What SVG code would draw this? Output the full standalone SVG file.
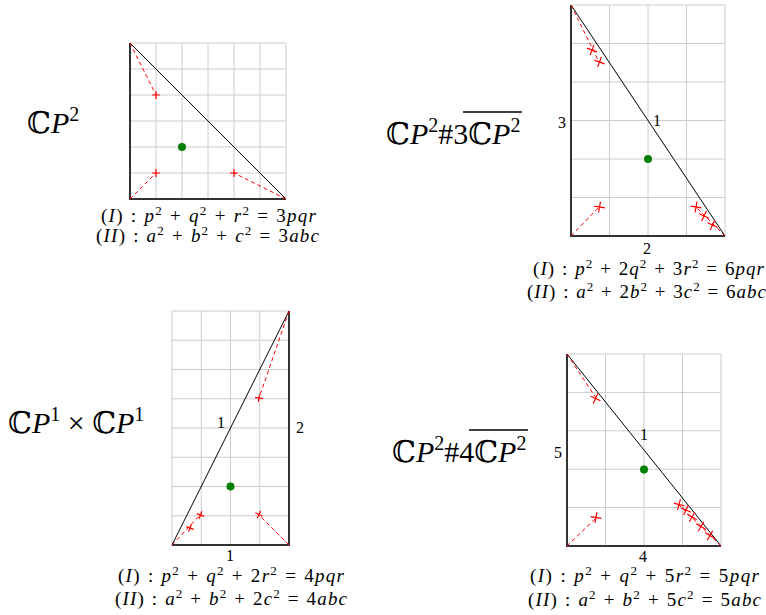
<svg xmlns="http://www.w3.org/2000/svg" xmlns:xlink="http://www.w3.org/1999/xlink" width="766" height="615" viewBox="0 0 766 615">
<style>
.grid{stroke:#cccccc;stroke-width:1;fill:none}
.axis{stroke:#333333;stroke-width:2;fill:none}
.hyp{stroke:#000000;stroke-width:1;fill:none}
.dash{stroke:#ff0000;stroke-width:1;stroke-dasharray:4 3;fill:none}
.cr{stroke:#ff0000;stroke-width:1.2;fill:none}
.dot{fill:#008000}
text{font-family:"Liberation Serif","DejaVu Serif",serif;fill:#000}
.num{font-size:16px;text-anchor:middle}
.eq{font-size:19px;text-anchor:middle;word-spacing:1px}
.i{font-style:italic}
.s{font-size:13px}
.title{font-size:30px}
.t2{font-size:20px}
.bb{font-family:"DejaVu Serif",serif}
.ol{stroke:#000;stroke-width:1.3}
</style>
<defs>
<path id="c" d="M-4,0H4M0,-4V4"/>
<path id="C" d="M-5.5,0H5.5M0,-5.5V5.5"/>
</defs>

<g id="panel1">
<path class="grid" d="M130,43H286M130,69H286M130,95H286M130,121H286M130,147H286M130,173H286M130,199H286M130,43V199M156,43V199M182,43V199M208,43V199M234,43V199M260,43V199M286,43V199"/>
<path class="axis" d="M130,43V199H286"/>
<path class="hyp" d="M130,43L286,199"/>
<circle class="dot" cx="182" cy="147" r="4"/>
</g>
<g id="panel2">
<path class="grid" d="M571,5H725M571,43.5H725M571,82H725M571,120.5H725M571,159H725M571,197.5H725M571,236H725M571,5V236M609.5,5V236M648,5V236M686.5,5V236M725,5V236"/>
<path class="axis" d="M571,5V236H725"/>
<path class="hyp" d="M571,5L725,236"/>
<circle class="dot" cx="648" cy="159" r="4"/>
</g>
<g id="panel3">
<path class="grid" d="M172,311H289M172,340.25H289M172,369.5H289M172,398.75H289M172,428H289M172,457.25H289M172,486.5H289M172,515.75H289M172,545H289M172,311V545M201.25,311V545M230.5,311V545M259.75,311V545M289,311V545"/>
<path class="axis" d="M289,311V545H172"/>
<path class="hyp" d="M172,545L289,311"/>
<circle class="dot" cx="230.5" cy="486.5" r="4"/>
</g>
<g id="panel4">
<path class="grid" d="M567,354H721M567,392.4H721M567,430.8H721M567,469.2H721M567,507.6H721M567,546H721M567,354V546M605.5,354V546M644,354V546M682.5,354V546M721,354V546"/>
<path class="axis" d="M567,354V546H721"/>
<path class="hyp" d="M567,354L721,546"/>
<circle class="dot" cx="644" cy="469.5" r="4"/>
</g>

<g id="connectors">
<path class="dash" d="M130,43L156,95M130,199L156,173M286,199L234,173"/>
<path class="dash" d="M571,5L599,62M571,236L599,207M725,236L696,207"/>
<path class="dash" d="M172,545L200,515M289,311L259,398M289,545L259,515"/>
<path class="dash" d="M567,354L596,398M567,546L596,518M721,546L679,505"/>
</g>

<g id="crosses">
<use xlink:href="#c" class="cr" x="156" y="95"/>
<use xlink:href="#c" class="cr" x="156" y="173"/>
<use xlink:href="#c" class="cr" x="234" y="173"/>
<use xlink:href="#C" class="cr" transform="translate(592,50) rotate(20)"/>
<use xlink:href="#C" class="cr" transform="translate(599.5,62) rotate(20)"/>
<use xlink:href="#C" class="cr" transform="translate(599.5,207) rotate(10)"/>
<use xlink:href="#C" class="cr" transform="translate(696,207) rotate(10)"/>
<use xlink:href="#C" class="cr" transform="translate(704,216) rotate(25)"/>
<use xlink:href="#C" class="cr" transform="translate(712.5,225) rotate(25)"/>
<use xlink:href="#c" class="cr" transform="translate(190,528) rotate(20)"/>
<use xlink:href="#c" class="cr" transform="translate(200.5,515) rotate(20)"/>
<use xlink:href="#c" class="cr" transform="translate(259,398) rotate(10)"/>
<use xlink:href="#c" class="cr" transform="translate(259,514.5) rotate(25)"/>
<use xlink:href="#C" class="cr" transform="translate(595.5,398.5) rotate(25)"/>
<use xlink:href="#C" class="cr" transform="translate(596,517.5) rotate(10)"/>
<use xlink:href="#C" class="cr" transform="translate(679,504.5) rotate(15)"/>
<use xlink:href="#C" class="cr" transform="translate(686,510) rotate(25)"/>
<use xlink:href="#C" class="cr" transform="translate(692,517) rotate(30)"/>
<use xlink:href="#C" class="cr" transform="translate(701,526.5) rotate(30)"/>
<use xlink:href="#C" class="cr" transform="translate(710,535.5) rotate(30)"/>
</g>

<g id="labels">
<text class="num" x="562" y="128">3</text>
<text class="num" x="657" y="126">1</text>
<text class="num" x="647" y="254">2</text>
<text class="num" x="221" y="428">1</text>
<text class="num" x="300" y="433">2</text>
<text class="num" x="230" y="561">1</text>
<text class="num" x="558" y="458">5</text>
<text class="num" x="644" y="440">1</text>
<text class="num" x="643" y="562">4</text>
</g>

<g id="titles">
<text class="title" x="27" y="133"><tspan class="bb">ℂ</tspan><tspan class="i">P</tspan><tspan class="t2" dy="-12">2</tspan></text>
<text class="title" x="386" y="144"><tspan class="bb">ℂ</tspan><tspan class="i">P</tspan><tspan class="t2" dy="-12">2</tspan><tspan dy="12">#3</tspan><tspan class="bb">ℂ</tspan><tspan class="i">P</tspan><tspan class="t2" dy="-12">2</tspan></text>
<line class="ol" x1="463" y1="112" x2="522" y2="112"/>
<text class="title" x="8" y="433"><tspan class="bb">ℂ</tspan><tspan class="i">P</tspan><tspan class="t2" dy="-12">1</tspan><tspan dy="12"> × </tspan><tspan class="bb">ℂ</tspan><tspan class="i">P</tspan><tspan class="t2" dy="-12">1</tspan></text>
<text class="title" x="392" y="462"><tspan class="bb">ℂ</tspan><tspan class="i">P</tspan><tspan class="t2" dy="-12">2</tspan><tspan dy="12">#4</tspan><tspan class="bb">ℂ</tspan><tspan class="i">P</tspan><tspan class="t2" dy="-12">2</tspan></text>
<line class="ol" x1="469" y1="430" x2="528" y2="430"/>
</g>

<g id="equations">
<text class="eq" x="208.5" y="222" textLength="215" lengthAdjust="spacing">(<tspan class="i">I</tspan>) : <tspan class="i">p</tspan><tspan class="s" dy="-7">2</tspan><tspan dy="7"> + </tspan><tspan class="i">q</tspan><tspan class="s" dy="-7">2</tspan><tspan dy="7"> + </tspan><tspan class="i">r</tspan><tspan class="s" dy="-7">2</tspan><tspan dy="7"> = 3</tspan><tspan class="i">pqr</tspan></text>
<text class="eq" x="207.5" y="242" textLength="223" lengthAdjust="spacing">(<tspan class="i">II</tspan>) : <tspan class="i">a</tspan><tspan class="s" dy="-7">2</tspan><tspan dy="7"> + </tspan><tspan class="i">b</tspan><tspan class="s" dy="-7">2</tspan><tspan dy="7"> + </tspan><tspan class="i">c</tspan><tspan class="s" dy="-7">2</tspan><tspan dy="7"> = 3</tspan><tspan class="i">abc</tspan></text>

<text class="eq" x="648.5" y="275" textLength="231" lengthAdjust="spacing">(<tspan class="i">I</tspan>) : <tspan class="i">p</tspan><tspan class="s" dy="-7">2</tspan><tspan dy="7"> + 2</tspan><tspan class="i">q</tspan><tspan class="s" dy="-7">2</tspan><tspan dy="7"> + 3</tspan><tspan class="i">r</tspan><tspan class="s" dy="-7">2</tspan><tspan dy="7"> = 6</tspan><tspan class="i">pqr</tspan></text>
<text class="eq" x="646.5" y="298" textLength="239" lengthAdjust="spacing">(<tspan class="i">II</tspan>) : <tspan class="i">a</tspan><tspan class="s" dy="-7">2</tspan><tspan dy="7"> + 2</tspan><tspan class="i">b</tspan><tspan class="s" dy="-7">2</tspan><tspan dy="7"> + 3</tspan><tspan class="i">c</tspan><tspan class="s" dy="-7">2</tspan><tspan dy="7"> = 6</tspan><tspan class="i">abc</tspan></text>

<text class="eq" x="231" y="582" textLength="226" lengthAdjust="spacing">(<tspan class="i">I</tspan>) : <tspan class="i">p</tspan><tspan class="s" dy="-7">2</tspan><tspan dy="7"> + </tspan><tspan class="i">q</tspan><tspan class="s" dy="-7">2</tspan><tspan dy="7"> + 2</tspan><tspan class="i">r</tspan><tspan class="s" dy="-7">2</tspan><tspan dy="7"> = 4</tspan><tspan class="i">pqr</tspan></text>
<text class="eq" x="231" y="605" textLength="232" lengthAdjust="spacing">(<tspan class="i">II</tspan>) : <tspan class="i">a</tspan><tspan class="s" dy="-7">2</tspan><tspan dy="7"> + </tspan><tspan class="i">b</tspan><tspan class="s" dy="-7">2</tspan><tspan dy="7"> + 2</tspan><tspan class="i">c</tspan><tspan class="s" dy="-7">2</tspan><tspan dy="7"> = 4</tspan><tspan class="i">abc</tspan></text>

<text class="eq" x="644.5" y="582" textLength="229" lengthAdjust="spacing">(<tspan class="i">I</tspan>) : <tspan class="i">p</tspan><tspan class="s" dy="-7">2</tspan><tspan dy="7"> + </tspan><tspan class="i">q</tspan><tspan class="s" dy="-7">2</tspan><tspan dy="7"> + 5</tspan><tspan class="i">r</tspan><tspan class="s" dy="-7">2</tspan><tspan dy="7"> = 5</tspan><tspan class="i">pqr</tspan></text>
<text class="eq" x="644.5" y="606" textLength="233" lengthAdjust="spacing">(<tspan class="i">II</tspan>) : <tspan class="i">a</tspan><tspan class="s" dy="-7">2</tspan><tspan dy="7"> + </tspan><tspan class="i">b</tspan><tspan class="s" dy="-7">2</tspan><tspan dy="7"> + 5</tspan><tspan class="i">c</tspan><tspan class="s" dy="-7">2</tspan><tspan dy="7"> = 5</tspan><tspan class="i">abc</tspan></text>
</g>
</svg>
